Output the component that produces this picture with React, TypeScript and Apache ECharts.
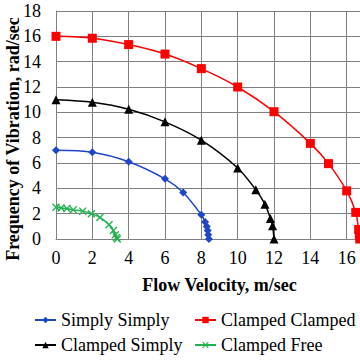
import React, { useEffect, useRef } from "react";
import * as echarts from "echarts";

const xTicks = [0, 18, 2];
const yTicks = [0, 18, 2];

const ssX = [0, 2, 4, 6, 7, 8, 8.21, 8.3, 8.35, 8.38, 8.42];
const ssY = [7.0, 6.85, 6.1, 4.75, 3.67, 1.91, 1.34, 0.99, 0.68, 0.34, 0];

const ccX = [0, 2, 4, 6, 8, 10, 12, 14, 15, 16, 16.5, 16.66, 16.7, 16.72];
const ccY = [16.0, 15.85, 15.35, 14.6, 13.45, 12.0, 10.05, 7.55, 5.95, 3.8, 2.1, 0.75, 0.35, 0];

const csX = [0, 2, 4, 6, 8, 10, 11, 11.5, 11.8, 11.92, 12.0];
const csY = [11.0, 10.8, 10.25, 9.25, 7.8, 5.6, 3.88, 2.75, 1.62, 1.05, 0];

const cfX = [0, 0.28, 0.6, 0.95, 1.47, 1.95, 2.42, 2.92, 3.16, 3.27, 3.33, 3.37];
const cfY = [2.5, 2.45, 2.4, 2.3, 2.2, 2.0, 1.7, 1.13, 0.68, 0.34, 0.12, 0];

const names = ["Simply Simply", "Clamped Clamped", "Clamped Simply", "Clamped Free"];
const colors = ["#1f45c8", "#ff0000", "#000000", "#22b050"];

const zip = (xs: number[], ys: number[]) => xs.map((x, i) => [x, ys[i]]);

const FONT = "'Liberation Serif', 'Times New Roman', serif";
const CROSS = "path://M0,1.2L1.2,0L5,3.8L8.8,0L10,1.2L6.2,5L10,8.8L8.8,10L5,6.2L1.2,10L0,8.8L3.8,5Z";

export default function App() {
  const ref = useRef<HTMLDivElement>(null);
  useEffect(() => {
    if (!ref.current) return;
    const chart = echarts.init(ref.current, null, { renderer: "svg" });
    const symbols = ["diamond", "rect", "triangle", CROSS];
    const sizes = [8, 9, 9, 8];
    const datas = [zip(ssX, ssY), zip(ccX, ccY), zip(csX, csY), zip(cfX, cfY)];
    const legendPos = [
      { left: 34, top: 311 },
      { left: 194, top: 311 },
      { left: 34, top: 336 },
      { left: 194, top: 336 },
    ];
    chart.setOption({
      animation: false,
      grid: { left: 56, top: 11, bottom: 121, right: -23, outerBoundsMode: "none", containLabel: false },
      xAxis: {
        type: "value",
        min: xTicks[0],
        max: xTicks[1],
        interval: xTicks[2],
        axisLine: { show: true, lineStyle: { color: "#7f7f7f", width: 1 } },
        axisTick: { show: false },
        splitLine: { show: true, lineStyle: { color: "#7f7f7f", width: 1 } },
        axisLabel: { color: "#000", fontFamily: FONT, fontSize: 18, margin: 10, showMaxLabel: false },
        name: "Flow Velocity, m/sec",
        nameLocation: "middle",
        nameGap: 37,
        nameTextStyle: { color: "#000", fontFamily: FONT, fontSize: 18, fontWeight: "bold" },
      },
      yAxis: {
        type: "value",
        min: yTicks[0],
        max: yTicks[1],
        interval: yTicks[2],
        axisLine: { show: true, lineStyle: { color: "#7f7f7f", width: 1 } },
        axisTick: { show: false },
        splitLine: { show: true, lineStyle: { color: "#7f7f7f", width: 1 } },
        axisLabel: { color: "#000", fontFamily: FONT, fontSize: 18, margin: 15 },
      },
      graphic: [
        {
          type: "text",
          x: 13,
          y: 139,
          rotation: Math.PI / 2,
          style: {
            text: "Frequency of Vibration, rad/sec",
            fontFamily: FONT,
            fontSize: 18,
            fontWeight: "bold",
            fill: "#000",
            align: "center",
            verticalAlign: "middle",
          },
        },
      ],
      legend: names.map((n, i) => ({
        data: [n],
        ...legendPos[i],
        itemWidth: 21,
        itemHeight: 8,
        padding: 0,
        textStyle: { color: "#000", fontFamily: FONT, fontSize: 18 },
      })),
      series: names.map((n, i) => ({
        name: n,
        type: "line",
        data: datas[i],
        smooth: 0.3,
        symbol: symbols[i],
        symbolSize: sizes[i],
        showSymbol: true,
        lineStyle: { color: colors[i], width: 1.5 },
        itemStyle: { color: colors[i] },
      })),
    });
    return () => chart.dispose();
  }, []);
  return (
    <div
      ref={ref}
      style={{ position: "absolute", left: 0, top: 0, width: 360, height: 360, background: "#fff" }}
    />
  );
}
